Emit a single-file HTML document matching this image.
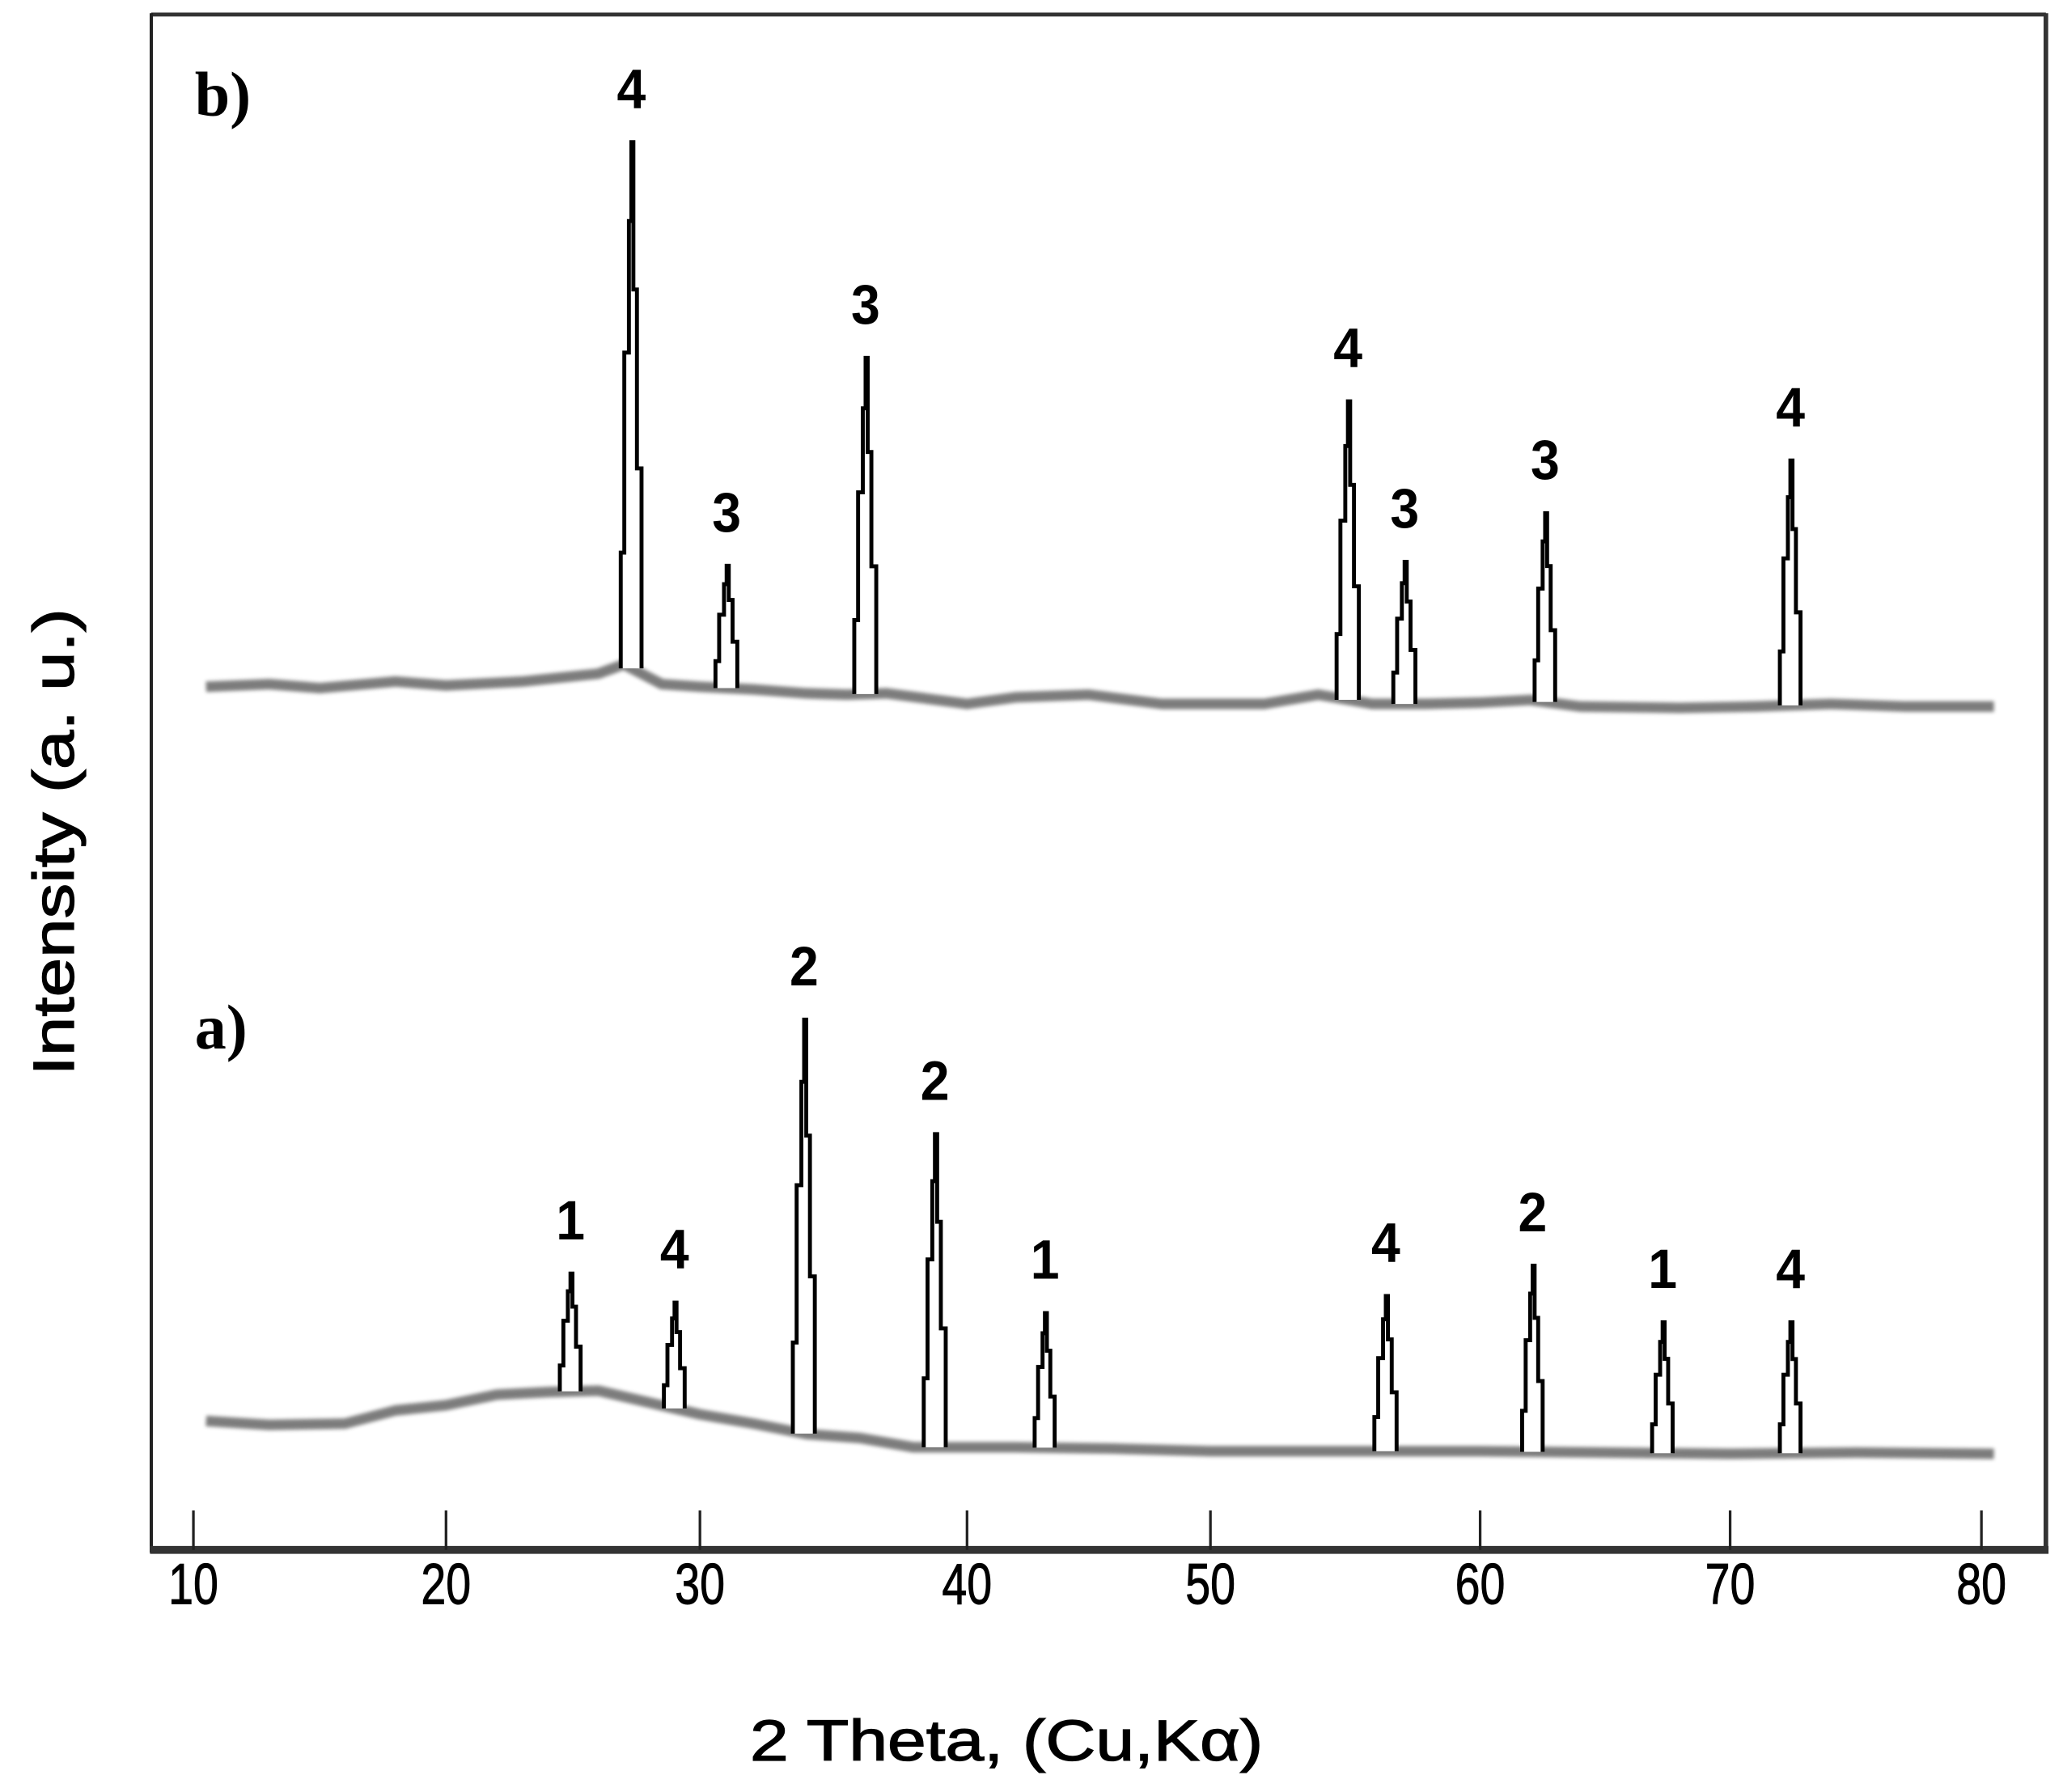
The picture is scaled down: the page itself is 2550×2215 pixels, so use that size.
<!DOCTYPE html>
<html><head><meta charset="utf-8"><style>
html,body{margin:0;padding:0;background:#fff;}
svg{display:block;}
</style></head><body>
<svg id="chart" width="2550" height="2215" viewBox="0 0 1568 1362" xmlns="http://www.w3.org/2000/svg">
<defs><filter id="blur" x="-5%" y="-50%" width="110%" height="200%"><feGaussianBlur stdDeviation="1.4"/></filter></defs>
<rect x="0" y="0" width="1568" height="1362" fill="#fff"/>
<g id="frame">
<line x1="115" y1="11" x2="1555" y2="11" stroke="#333" stroke-width="3"/>
<line x1="115" y1="10" x2="115" y2="1180" stroke="#222" stroke-width="2.5"/>
<line x1="1555" y1="10" x2="1555" y2="1180" stroke="#333" stroke-width="3.5"/>
<line x1="114" y1="1178" x2="1557" y2="1178" stroke="#333" stroke-width="6"/>
</g>
<g id="ticks"></g>
<g id="series"></g>
<g id="labels"></g>
<text x="765" y="1338" font-family="Liberation Sans, sans-serif" font-size="44" text-anchor="middle" textLength="390" lengthAdjust="spacingAndGlyphs" stroke="#000" stroke-width="0.8">2 Theta, (Cu,Kα)</text>
<text transform="translate(56,640) rotate(-90)" font-family="Liberation Sans, sans-serif" font-size="44" text-anchor="middle" textLength="355" lengthAdjust="spacingAndGlyphs" stroke="#000" stroke-width="0.8">Intensity (a. u.)</text>
<text x="148" y="88" font-family="Liberation Serif, serif" font-weight="bold" font-size="48">b)</text>
<text x="148" y="797" font-family="Liberation Serif, serif" font-weight="bold" font-size="48">a)</text>
</svg>
<script>
// x-axis ticks and their pixel calibration
const tickValues = [10,20,30,40,50,60,70,80];
const tickLabels = ["10","20","30","40","50","60","70","80"];
// baseline (background) of pattern a
const baseAX = [10.5,13,16,18,20,22,24,26,28,30,32,34,36,38,42,46,50,55,60,65,70,75,80.5];
const baseAY = [98,95,96,106,110,118,120,121,112,103,96,88,85,78,78,77,75,75,75,74,73,74,73];
// peaks of pattern a
const peaksAX = [24.9,29.0,33.9,38.8,43.2,56.5,62.1,67.3,72.4];
const peaksAI = [210,188,403,316,180,193,216,173,173];
const peaksALabel = ["1","4","2","2","1","4","2","1","4"];
// baseline of pattern b
const baseBX = [10.5,13,15,18,20,23,26,27,28.5,30,32,34,35.5,37,40,42,45,48,52,54,56,58,60,62,64,68,71,74,77,80.5];
const baseBY = [656,658,655,660,657,660,666,673,658,656,654,651,650,651,643,648,650,643,643,650,643,643,644,646,641,640,641,643,641,641];
// peaks of pattern b
const peaksBX = [27.3,31.0,36.2,55.1,57.2,62.6,72.4];
const peaksBI = [1070,748,906,873,751,788,828];
const peaksBLabel = ["4","3","3","4","3","3","4"];

const tickPx = [147,339,532,735,920,1125,1315,1506];
const NS = "http://www.w3.org/2000/svg";
function xs(v){
  let i=0; while(i<tickValues.length-2 && v>tickValues[i+1]) i++;
  return tickPx[i]+(v-tickValues[i])*(tickPx[i+1]-tickPx[i])/(tickValues[i+1]-tickValues[i]);
}
function ys(v){ return 1178 - v; }
function interp(X,Y,x){
  if(x<=X[0]) return Y[0];
  for(let i=0;i<X.length-1;i++){ if(x<=X[i+1]) return Y[i]+(x-X[i])*(Y[i+1]-Y[i])/(X[i+1]-X[i]); }
  return Y[Y.length-1];
}
function mk(tag,attrs,parent){ const e=document.createElementNS(NS,tag); for(const k in attrs) e.setAttribute(k,attrs[k]); parent.appendChild(e); return e; }

const gT=document.getElementById('ticks');
tickValues.forEach((t,i)=>{
  const l=mk('line',{x1:xs(t),x2:xs(t),y1:1148,y2:1178,stroke:'#222','stroke-width':2},gT);
  
  
  const tx=mk('text',{x:xs(t),y:1219,'font-family':'Liberation Sans, sans-serif','font-size':44,'text-anchor':'middle',textLength:38,lengthAdjust:'spacingAndGlyphs',stroke:'#000','stroke-width':0.6},gT);
  tx.textContent=tickLabels[i];
  
  
});

const gS=document.getElementById('series');
const gL=document.getElementById('labels');
function drawPattern(bx,by,px,pi,pl,name){
  const g=mk('g',{},gS);
  
  
  let d='';
  bx.forEach((x,i)=>{ d+=(i?'L':'M')+xs(x).toFixed(1)+','+ys(by[i]).toFixed(1); });
  const bl=mk('path',{d:d,fill:'none',stroke:'#666','stroke-width':8,filter:'url(#blur)','stroke-linejoin':'round',opacity:0.85},g);
  
  
  px.forEach((p,i)=>{
    const b=interp(bx,by,p); const h=pi[i]-b;
    const pts=[[-0.42,0],[-0.42,0.22],[-0.28,0.22],[-0.28,0.6],[-0.1,0.6],[-0.1,0.85],[0,0.85],[0,1],[0.08,1],[0.08,0.72],[0.22,0.72],[0.22,0.38],[0.4,0.38],[0.4,0]];
    let pd=''; pts.forEach((q,j)=>{ pd+=(j?'L':'M')+xs(p+q[0]).toFixed(1)+','+ys(b+q[1]*h).toFixed(1); });
    const pk=mk('path',{d:pd,fill:'#fff',stroke:'#000','stroke-width':3},g);
    
    
    const t=mk('text',{x:xs(p),y:ys(pi[i])-26,'font-family':'Liberation Sans, sans-serif','font-weight':'bold','font-size':42,'text-anchor':'middle',textLength:22,lengthAdjust:'spacingAndGlyphs'},gL);
    t.textContent=pl[i];
    
    
  });
}
drawPattern(baseAX,baseAY,peaksAX,peaksAI,peaksALabel,'pattern-a');
drawPattern(baseBX,baseBY,peaksBX,peaksBI,peaksBLabel,'pattern-b');
</script>
</body></html>
